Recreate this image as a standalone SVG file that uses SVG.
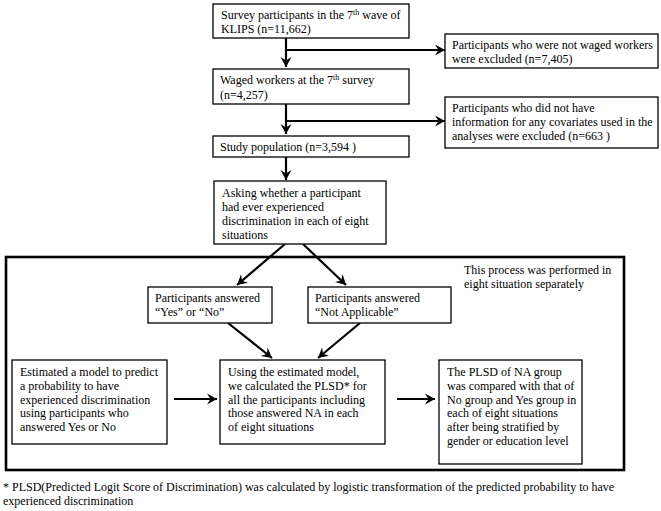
<svg xmlns="http://www.w3.org/2000/svg" width="661" height="511" viewBox="0 0 661 511">
<style>
text{font-family:"Liberation Serif","Times New Roman",serif;font-size:12px;fill:#000}
.box{fill:#fff;stroke:#000;stroke-width:1.3}
.big{fill:none;stroke:#000;stroke-width:2.6}
.con{fill:none;stroke:#000;stroke-width:2.2;marker-end:url(#ah)}
.sup{font-size:8px}
</style>
<defs>
<marker id="ah" markerUnits="userSpaceOnUse" markerWidth="12" markerHeight="12" refX="10" refY="6" orient="auto">
<path d="M0,0.5 L10,6 L0,11.5 L3.5,6 z" fill="#000"/>
</marker>
</defs>
<rect class="big" x="6" y="257" width="618" height="213"/>
<g id="connectors">
<line class="con" x1="286" y1="38" x2="286" y2="67"/>
<line class="con" x1="285" y1="50" x2="445" y2="50"/>
<line class="con" x1="286" y1="104" x2="286" y2="134"/>
<line class="con" x1="285" y1="121" x2="445" y2="121"/>
<line class="con" x1="286" y1="157" x2="286" y2="180"/>
<line class="con" x1="285" y1="244" x2="237" y2="285"/>
<line class="con" x1="303" y1="244" x2="346" y2="285"/>
<line class="con" x1="228" y1="323" x2="272" y2="358"/>
<line class="con" x1="360" y1="323" x2="318" y2="358"/>
<line class="con" x1="174" y1="399" x2="217" y2="399"/>
<line class="con" x1="397" y1="399" x2="435" y2="399"/>
</g>
<g id="n1">
<rect class="box" x="213" y="4" width="196" height="34"/>
<text x="221" y="19">Survey participants in the 7<tspan class="sup" dy="-4">th</tspan><tspan dy="4"> wave of</tspan></text>
<text x="221" y="33">KLIPS (n=11,662)</text>
</g>
<g id="n2">
<rect class="box" x="445" y="34" width="213" height="34"/>
<text x="452" y="49">Participants who were not waged workers</text>
<text x="452" y="63">were excluded (n=7,405)</text>
</g>
<g id="n3">
<rect class="box" x="213" y="69" width="196" height="35"/>
<text x="220" y="84">Waged workers at the 7<tspan class="sup" dy="-4">th</tspan><tspan dy="4"> survey</tspan></text>
<text x="220" y="99">(n=4,257)</text>
</g>
<g id="n4">
<rect class="box" x="445" y="97" width="213" height="51"/>
<text x="452" y="112">Participants who did not have</text>
<text x="452" y="126">information for any covariates used in the</text>
<text x="452" y="140">analyses were excluded (n=663 )</text>
</g>
<g id="n5">
<rect class="box" x="213" y="136" width="196" height="21"/>
<text x="220" y="151">Study population (n=3,594 )</text>
</g>
<g id="n6">
<rect class="box" x="214" y="181" width="172" height="63"/>
<text x="222" y="197">Asking whether a participant</text>
<text x="222" y="211">had ever experienced</text>
<text x="222" y="225">discrimination in each of eight</text>
<text x="222" y="239">situations</text>
</g>
<g id="note">
<text x="464" y="274">This process was performed in</text>
<text x="464" y="288">eight situation separately</text>
</g>
<g id="n7">
<rect class="box" x="148" y="287" width="124" height="36"/>
<text x="155" y="302">Participants answered</text>
<text x="155" y="316">“Yes” or “No”</text>
</g>
<g id="n8">
<rect class="box" x="308" y="287" width="143" height="36"/>
<text x="315" y="302">Participants answered</text>
<text x="315" y="316">“Not Applicable”</text>
</g>
<g id="n9">
<rect class="box" x="12" y="360" width="155" height="84"/>
<text x="20" y="376">Estimated a model to predict</text>
<text x="20" y="390">a probability to have</text>
<text x="20" y="404">experienced discrimination</text>
<text x="20" y="417">using participants who</text>
<text x="20" y="431">answered Yes or No</text>
</g>
<g id="n10">
<rect class="box" x="220" y="360" width="165" height="84"/>
<text x="228" y="376">Using the estimated model,</text>
<text x="228" y="390">we calculated the PLSD* for</text>
<text x="228" y="404">all the participants including</text>
<text x="228" y="417">those answered NA in each</text>
<text x="228" y="431">of eight situations</text>
</g>
<g id="n11">
<rect class="box" x="439" y="360" width="143" height="104"/>
<text x="447" y="376">The PLSD of NA group</text>
<text x="447" y="390">was compared with that of</text>
<text x="447" y="404">No group and Yes group in</text>
<text x="447" y="417">each of eight situations</text>
<text x="447" y="431">after being stratified by</text>
<text x="447" y="445">gender or education level</text>
</g>
<g id="footnote">
<text x="3" y="491">* PLSD(Predicted Logit Score of Discrimination) was calculated by logistic transformation of the predicted probability to have</text>
<text x="3" y="505">experienced discrimination</text>
</g>
</svg>
